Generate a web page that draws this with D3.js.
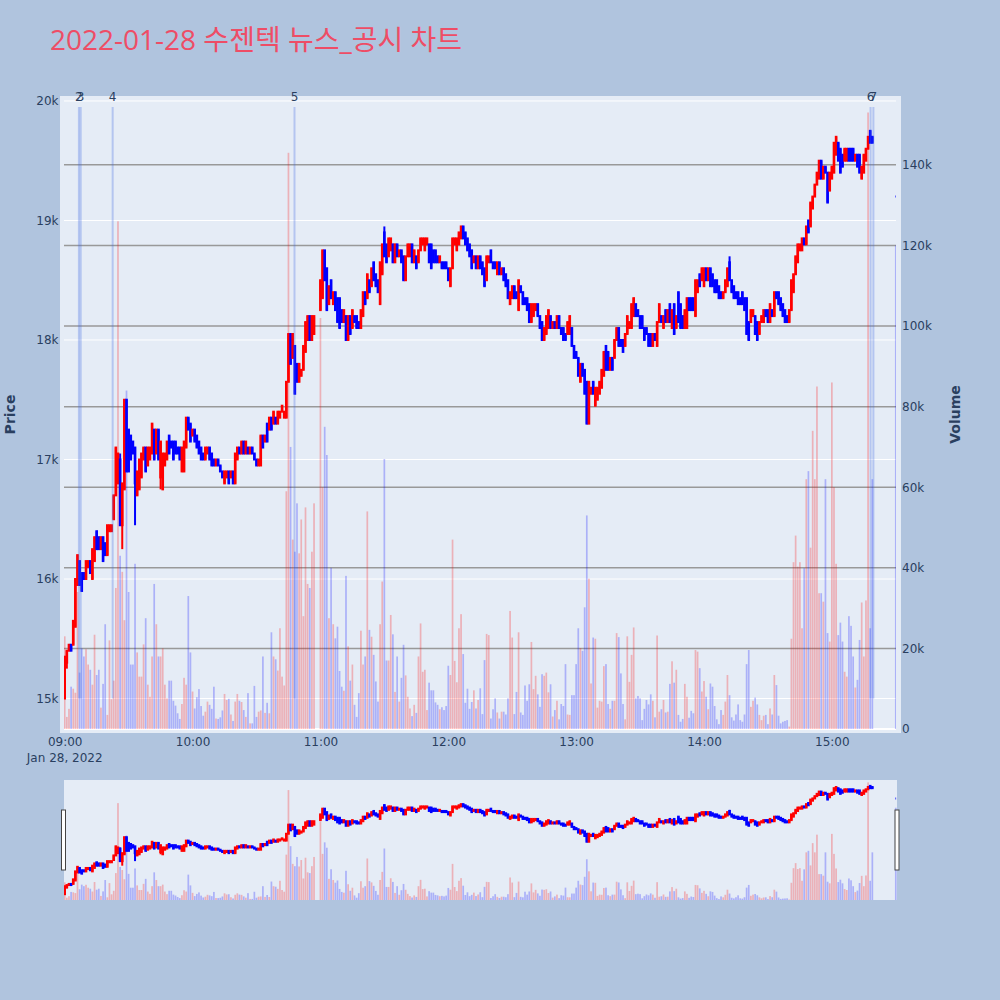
<!DOCTYPE html>
<html>
<head>
<meta charset="utf-8">
<script src="https://cdn.jsdelivr.net/npm/d3@7"></script>
<style>
  body { margin: 0; background: #b0c4de; }
  svg { display: block; font-family: "DejaVu Sans", "Noto Sans CJK KR", sans-serif; }
</style>
</head>
<body>
<div id="chart"></div>
<script>
const chartTitle = "2022-01-28 수젠텍 뉴스_공시 차트";
const tradeDay = "2022-01-28";
const sessionStart = "09:00";       // first one-minute candle
const closingAuction = "15:30";     // last candle (closing auction)

// one-minute candles from 09:00 to 15:19, then 15:30 (null = no trade, VI)
const opens = [
  15000,15300,15400,15450,15450,15600,15950,16150,16050,16050,
  16000,16100,16150,16000,16150,16400,16350,16250,16350,16300,
  16200,16400,16400,16500,16700,16800,17000,16450,16750,17500,
  17250,17200,17150,17100,16700,16750,16850,17000,17100,16950,
  17000,17050,17250,17050,17250,16850,16750,16950,17000,17200,
  17150,17150,17150,17100,17100,16900,16900,17100,17350,17300,
  17200,17250,17200,17150,17100,17050,17000,17050,17100,17050,
  17000,16950,17000,16950,16900,16800,16850,16900,16850,16900,
  16800,17000,17100,17050,17150,17050,17100,17050,17100,17050,
  17000,16950,16950,17200,17150,17300,17250,17350,17300,17350,
  17300,17350,17400,17350,17350,17650,18050,17850,17950,17800,
  17650,17700,17750,17900,18000,18200,18000,18050,null,null,
  18250,18350,18750,18600,18300,18500,18300,18400,18350,18350,
  18250,18150,18200,18000,18200,18100,18200,18200,18150,18100,
  18200,18400,18350,18500,18450,18650,18550,18500,18300,18550,
  18900,18800,18700,18750,18800,18650,18800,18700,18750,18700,
  18500,18700,18700,18800,18650,18700,18650,18750,18800,18750,
  18800,18800,18800,18750,18750,18700,18650,18650,18650,18650,
  18600,18450,18600,18800,18750,18800,18850,18950,18900,18850,
  18800,18750,18650,18700,18600,18700,18650,18600,18500,18650,
  18750,18650,18650,18550,18650,18550,18600,18550,18500,18300,
  18350,18450,18400,18250,18450,18400,18350,18350,18300,18150,
  18200,18250,18300,18200,18150,18000,18050,18100,18200,18100,
  18150,18100,18200,18100,18100,18050,18050,18050,18100,17950,
  17900,17850,17650,17800,17750,17650,17300,17550,17650,17450,
  17500,17550,17600,17700,17950,17900,17750,17850,17850,18000,
  18100,18000,18000,17950,18050,18100,18100,18200,18300,18250,
  18200,18200,18100,18100,18050,18050,17950,18050,17950,18150,
  18200,18100,18250,18150,18300,18100,18300,18100,18400,18300,
  18200,18100,18100,18350,18350,18350,18200,18400,18550,18500,
  18450,18600,18500,18600,18550,18500,18500,18450,18400,18350,
  18400,18450,18650,18500,18450,18400,18400,18350,18400,18350,
  18350,18150,18150,18200,18200,18150,18050,18150,18150,18250,
  18250,18150,18250,18200,18400,18400,18350,18300,18250,18200,
  18150,18250,18400,18550,18650,18750,18750,18850,18800,19000,
  18950,19100,19200,19300,19350,19500,19350,19450,19400,19250,
  19350,19400,19550,19650,19600,19550,19500,19500,19600,19600,
  19600,19500,19550,19550,19350,19400,19500,19600,19750,19700,
  19200
];
const closes = [
  15350,15400,15450,15400,15650,16000,16200,15950,15900,16000,
  16150,16150,16050,16250,16350,16250,16250,16350,16150,16200,
  16450,16450,16450,16700,17100,17050,16450,16800,17500,16900,
  16900,17000,17050,16800,16900,17000,17050,17100,16900,17100,
  17100,17300,17000,17250,17000,17150,17050,17050,17150,17050,
  17100,17000,17050,17050,17000,17100,17150,17350,17250,17150,
  17250,17150,17100,17050,17000,17000,17100,17100,17000,16950,
  16950,17000,16950,16900,16850,16900,16900,16800,16900,16800,
  17050,17100,17050,17150,17050,17150,17050,17100,17050,17000,
  16950,17000,17200,17100,17200,17150,17350,17250,17400,17300,
  17400,17400,17450,17400,17650,18050,17800,18050,17550,17650,
  17800,17750,17950,18150,18200,18000,18200,18200,null,null,
  18500,18750,18500,18250,18450,18350,18400,18250,18150,18100,
  18150,18250,18000,18200,18050,18250,18150,18100,18100,18250,
  18400,18300,18550,18400,18600,18500,18450,18400,18650,18800,
  18700,18650,18850,18850,18650,18800,18700,18750,18650,18500,
  18700,18800,18800,18650,18750,18600,18750,18850,18850,18850,
  18850,18650,18600,18650,18650,18650,18700,18600,18600,18600,
  18500,18600,18850,18850,18850,18900,18950,18850,18800,18750,
  18700,18600,18700,18600,18700,18600,18550,18450,18700,18700,
  18650,18600,18600,18650,18550,18600,18500,18450,18350,18400,
  18450,18350,18350,18500,18400,18300,18300,18250,18150,18300,
  18300,18300,18200,18100,18000,18100,18200,18250,18100,18150,
  18100,18200,18100,18050,18000,18000,18150,18200,17950,17850,
  17850,17700,17800,17700,17550,17300,17650,17600,17550,17600,
  17600,17650,17750,17900,17750,17750,17850,17750,18000,18100,
  17950,17950,17900,18050,18200,18150,18300,18350,18200,18200,
  18100,18100,18000,18050,17950,17950,18050,18000,18150,18300,
  18150,18200,18150,18250,18150,18250,18050,18200,18150,18100,
  18100,18250,18350,18250,18250,18250,18500,18500,18450,18600,
  18600,18500,18600,18450,18450,18400,18400,18350,18350,18400,
  18500,18600,18500,18400,18350,18350,18300,18300,18300,18250,
  18050,18000,18250,18250,18050,18000,18150,18200,18250,18200,
  18150,18300,18200,18400,18350,18300,18250,18200,18150,18150,
  18250,18500,18550,18700,18800,18800,18850,18800,18950,18900,
  19150,19200,19300,19400,19500,19350,19450,19400,19150,19400,
  19450,19650,19700,19500,19400,19450,19600,19600,19500,19500,
  19500,19550,19450,19400,19450,19550,19600,19700,19650,19650,
  19200
];
// traded volume per candle, in thousands of shares
const volumesK = [
  23,3,5,10.5,10,9,34,14,20,18,
  19.8,16,14.7,11,23.4,13.4,14.7,5.3,11.2,26,
  3.5,22,7.4,12,35,126,43,39,27,84,
  34,16,16,41,19,13,13,21,27.5,11,
  8,18,36,26,18,18,20,11,7.6,12,
  12,7,5.8,3.9,2.5,6.2,12.7,11,33,19,
  9.3,5.1,7.9,9.9,5.7,3.3,4.3,6.8,6,5,
  10.5,2.6,2.5,2.9,4.6,8.7,7.2,7.5,3.6,2,
  6.8,8.7,7,6.7,4.7,3,8.9,1.4,1.4,10.7,
  3,4.3,4.6,18,4,6.5,3.9,24,18,17.3,
  14.5,25,13,10.8,59,143,70,47,44,56,
  43.6,52,28,55,36,35,44,56,0,0,
  102,60,75,68,27.5,40,26,22.5,25.4,14.4,
  10.5,9.5,38,20.5,12,16,6,3,8.9,24.4,
  16,18,54,24.6,22.9,18.4,11.8,6.8,26,36.6,
  67,17,17,28.3,23.5,9.2,18,6.8,12.7,20.9,
  13.3,8,5.1,3.2,6,4,18,26.2,14.2,14.7,
  4.7,11.5,9.6,9.6,6.6,6,4.9,5.4,4.7,5.7,
  15.7,13.4,47,16.9,11.6,25,28.5,18.6,6.5,10,
  5,6.7,9.6,5.1,7.2,10.1,3.7,17.1,23.6,23.3,
  2.6,4.9,7.6,4.1,2.6,4.3,4.3,3.6,7.6,29.3,
  22.7,3.7,9.2,24,4.1,3.5,10.8,7,11.1,21.6,
  9.9,13.2,8.6,5.5,13.6,13.2,14,9.1,11.1,3.1,
  4.7,7,2.4,6.2,5.7,16.1,3.6,3.5,8.4,8.4,
  16.1,25,20.1,19.4,30.2,53,37.3,11.3,22.7,22.4,
  5.3,7,6.8,15.6,16.1,6.2,5,7,7,23.8,
  22.8,13.8,6.2,2.4,23,11.7,18.4,25.2,7.6,8.2,
  7.6,2.2,5,7.2,6.1,8.6,7,2.9,23.2,4.3,
  4.9,7.2,4.1,4.3,11.2,16.8,11.5,14.7,3.5,1.8,
  2.5,11.2,8,2.8,4.5,3.9,19.6,19.2,15.1,9.3,
  11.9,8,4.9,11.3,10.5,5.7,2.4,1.2,4.7,3.5,
  6.8,13.4,8.4,2.9,2.1,3.6,6.1,2.2,1.8,3.6,
  16.1,19.6,5.5,7,7.8,6.1,3.5,2.2,3.3,3.5,
  1.2,5.1,3.6,13.4,10.9,3.3,1.4,1.8,2,2.2,
  0.6,22.4,41.4,48,40.3,41.4,25,39.9,62,64,
  45,74,62,85,33.7,33.7,31.6,62,23.8,21.7,
  86,60,41,23.3,26.4,21.7,14.2,13,28,25.6,
  18,10.3,12.2,22.1,31.4,18,31.9,153,25,62,
  120
];
const wickLows = [[1,15250],[27,16250],[33,16450],[45,16750],[123,18250]];   // [candle, low]
const wickHighs = [[26,17050],[150,18950],[312,18700]];                       // [candle, high]

// news / disclosure markers
const newsTimes = ["09:06:40","09:07:30","09:22:30","10:47:50","15:18:10","15:19:30"];
const newsLabels = ["2","3","4","5","6","7"];

// axis ticks
const timeTicks = ["09:00","10:00","11:00","12:00","13:00","14:00","15:00"];
const dateLabel = "Jan 28, 2022";
const priceTicks = [15000,16000,17000,18000,19000,20000];
const priceTickLabels = ["15k","16k","17k","18k","19k","20k"];
const volumeTicks = [0,20,40,60,80,100,120,140];
const volumeTickLabels = ["0","20k","40k","60k","80k","100k","120k","140k"];

let svg, X, Y, V, sY, sV;
let candles = [];
let parseTime = d3.timeParse("%Y-%m-%d %H:%M:%S");

const plot = {left: 64, right: 896, top: 100, bottom: 729};   // data area
const slider = {top: 780, bottom: 900};
const upColor = "#ff0000", downColor = "#0000ff";
const tickFont = "DejaVu Sans";
const inkColor = "#2a3f5f";

window.addEventListener('load', function ()
{
  candles = buildCandles();
  createSVG();
  drawGrid();
  drawVolume(svg.append("g").attr("clip-path", "url(#clipMain)"), V);
  drawCandles(svg.append("g").attr("clip-path", "url(#clipMain)"), Y);
  drawNews();
  drawAxes();
  drawSlider();
});

function buildCandles()
{
  let start = parseTime(tradeDay + " " + sessionStart + ":00");
  let rows = [];
  for (let i = 0; i < closes.length; i++)
  {
    let t = (i < closes.length - 1) ? d3.timeMinute.offset(start, i)
                                    : parseTime(tradeDay + " " + closingAuction + ":00");
    let o = opens[i], c = closes[i];
    let row = {t: t, o: o, c: c, v: volumesK[i], up: c > o};
    if (o != null)
    {
      row.hi = Math.max(o, c);
      row.lo = Math.min(o, c);
    }
    rows.push(row);
  }
  wickLows.forEach(w => rows[w[0]].lo = Math.min(rows[w[0]].lo, w[1]));
  wickHighs.forEach(w => rows[w[0]].hi = Math.max(rows[w[0]].hi, w[1]));
  return rows;
}

function createSVG()
{
  X = d3.scaleTime()
        .domain([parseTime(tradeDay + " 08:59:40"), parseTime(tradeDay + " 15:30:06")])
        .range([plot.left, plot.right]);
  Y = d3.scaleLinear().domain([14745, 20008]).range([plot.bottom, plot.top]);
  V = d3.scaleLinear().domain([0, 156.1]).range([plot.bottom, plot.top]);
  sY = d3.scaleLinear().domain([14745, 20008]).range([slider.bottom, slider.top]);
  sV = d3.scaleLinear().domain([0, 156.1]).range([slider.bottom, slider.top]);

  svg = d3.select("#chart")
    .append("svg")
    .attr("width", 1000)
    .attr("height", 1000);

  svg.append("rect")                        // paper
    .attr("width", 1000).attr("height", 1000)
    .attr("fill", "#b0c4de");

  let defs = svg.append("defs");
  defs.append("clipPath").attr("id", "clipMain")
    .append("rect")
    .attr("x", plot.left).attr("y", plot.top)
    .attr("width", plot.right - plot.left).attr("height", plot.bottom - plot.top);
  defs.append("clipPath").attr("id", "clipSlider")
    .append("rect")
    .attr("x", plot.left).attr("y", slider.top)
    .attr("width", plot.right - plot.left + 1).attr("height", slider.bottom - slider.top);

  svg.append("rect")                        // plot background
    .attr("x", 60).attr("y", 96)
    .attr("width", 841).attr("height", 637)
    .attr("fill", "#e5ecf6");

  svg.append("text")
    .attr("x", 50).attr("y", 50)
    .attr("font-family", "Open Sans, Noto Sans CJK KR, sans-serif")
    .attr("font-size", 28)
    .attr("fill", "#ee4d66")
    .text(chartTitle);
}

function drawGrid()
{
  svg.append("g").selectAll("line")         // price grid
    .data(priceTicks)
    .join("line")
    .attr("x1", plot.left).attr("x2", plot.right)
    .attr("y1", d => Y(d)).attr("y2", d => Y(d))
    .attr("stroke", "#ffffff").attr("stroke-width", 1);

  svg.append("g").selectAll("line")         // volume grid
    .data(volumeTicks.slice(1))
    .join("line")
    .attr("x1", plot.left).attr("x2", plot.right)
    .attr("y1", d => V(d)).attr("y2", d => V(d))
    .attr("stroke", "#999999").attr("stroke-width", 1.5);

  svg.append("line")                        // volume zero line
    .attr("x1", plot.left).attr("x2", plot.right)
    .attr("y1", V(0)).attr("y2", V(0))
    .attr("stroke", "#ffffff").attr("stroke-width", 2);
}

function minuteWidth()
{
  let t0 = parseTime(tradeDay + " 09:00:00");
  return X(d3.timeMinute.offset(t0, 1)) - X(t0);
}

function drawVolume(g, scale)
{
  let bw = minuteWidth() * 0.8;
  g.selectAll("rect")
    .data(candles.filter(d => d.v > 0))
    .join("rect")
    .attr("x", d => X(d.t) - bw / 2)
    .attr("y", d => scale(d.v))
    .attr("width", bw)
    .attr("height", d => scale(0) - scale(d.v))
    .attr("fill", d => d.up ? upColor : downColor)
    .attr("fill-opacity", 0.25);
}

function drawCandles(g, scale)
{
  let bw = minuteWidth() * 0.3;
  let rows = candles.filter(d => d.o != null);

  g.selectAll("line")                       // wicks
    .data(rows)
    .join("line")
    .attr("x1", d => X(d.t)).attr("x2", d => X(d.t))
    .attr("y1", d => scale(d.hi)).attr("y2", d => scale(d.lo))
    .attr("stroke", d => d.up ? upColor : downColor)
    .attr("stroke-width", 2);

  g.selectAll("path")                       // bodies
    .data(rows)
    .join("path")
    .attr("d", function(d){
      let x0 = X(d.t) - bw / 2, x1 = X(d.t) + bw / 2;
      let y0 = scale(Math.max(d.o, d.c)), y1 = scale(Math.min(d.o, d.c));
      return "M" + x0 + "," + y0 + "H" + x1 + "V" + y1 + "H" + x0 + "Z";
    })
    .attr("fill", d => d.up ? upColor : downColor)
    .attr("stroke", d => d.up ? upColor : downColor)
    .attr("stroke-width", 2);
}

function drawNews()
{
  let newsAt = newsTimes.map(s => parseTime(tradeDay + " " + s));
  let g = svg.append("g");

  g.selectAll("line")
    .data(newsAt)
    .join("line")
    .attr("x1", d => X(d)).attr("x2", d => X(d))
    .attr("y1", Y(19950)).attr("y2", Y(15000))
    .attr("stroke", "royalblue")
    .attr("stroke-opacity", 0.3)
    .attr("stroke-width", 2);

  g.selectAll("text")
    .data(newsAt)
    .join("text")
    .attr("x", d => X(d))
    .attr("y", 101)
    .attr("text-anchor", "middle")
    .attr("font-family", tickFont)
    .attr("font-size", 12)
    .attr("fill", inkColor)
    .text((d, i) => newsLabels[i]);
}

function drawAxes()
{
  let timeAt = timeTicks.map(s => parseTime(tradeDay + " " + s + ":00"));

  let xAxis = svg.append("g")
    .attr("transform", "translate(0," + 733 + ")")
    .call(d3.axisBottom(X).tickValues(timeAt).tickSize(0)
            .tickFormat((d, i) => timeTicks[i]));
  xAxis.select(".domain").remove();
  xAxis.selectAll("text")
    .attr("y", 13).attr("dy", 0)
    .attr("font-size", 12).attr("fill", inkColor)
    .attr("font-family", tickFont);

  svg.append("text")
    .attr("x", X(timeAt[0])).attr("y", 762)
    .attr("text-anchor", "middle")
    .attr("font-family", tickFont)
    .attr("font-size", 12).attr("fill", inkColor)
    .text(dateLabel);

  let yAxis = svg.append("g")
    .attr("transform", "translate(" + 60 + ",0)")
    .call(d3.axisLeft(Y).tickValues(priceTicks).tickSize(0)
            .tickFormat((d, i) => priceTickLabels[i]));
  yAxis.select(".domain").remove();
  yAxis.selectAll("text")
    .attr("x", -1.5)
    .attr("font-size", 12).attr("fill", inkColor)
    .attr("font-family", tickFont);

  let vAxis = svg.append("g")
    .attr("transform", "translate(" + 900 + ",0)")
    .call(d3.axisRight(V).tickValues(volumeTicks).tickSize(0)
            .tickFormat((d, i) => volumeTickLabels[i]));
  vAxis.select(".domain").remove();
  vAxis.selectAll("text")
    .attr("x", 2)
    .attr("font-size", 12).attr("fill", inkColor)
    .attr("font-family", tickFont);

  svg.append("text")                        // axis titles
    .attr("transform", "translate(14.5,414.5) rotate(-90)")
    .attr("text-anchor", "middle")
    .attr("font-family", tickFont)
    .attr("font-size", 14).attr("font-weight", "bold")
    .attr("fill", inkColor)
    .text("Price");

  svg.append("text")
    .attr("transform", "translate(959.5,414.5) rotate(-90)")
    .attr("text-anchor", "middle")
    .attr("font-family", tickFont)
    .attr("font-size", 14).attr("font-weight", "bold")
    .attr("fill", inkColor)
    .text("Volume");
}

function drawSlider()
{
  svg.append("rect")
    .attr("x", plot.left).attr("y", slider.top)
    .attr("width", plot.right - plot.left + 1).attr("height", slider.bottom - slider.top)
    .attr("fill", "#e5ecf6");

  drawVolume(svg.append("g").attr("clip-path", "url(#clipSlider)"), sV);
  drawCandles(svg.append("g").attr("clip-path", "url(#clipSlider)"), sY);

  svg.append("g").selectAll("rect")         // range handles
    .data([61.5, 895])
    .join("rect")
    .attr("x", d => d).attr("y", 810)
    .attr("width", 4).attr("height", 60)
    .attr("fill", "#ffffff")
    .attr("stroke", "#444444").attr("stroke-width", 1);
}
</script>
</body>
</html>
